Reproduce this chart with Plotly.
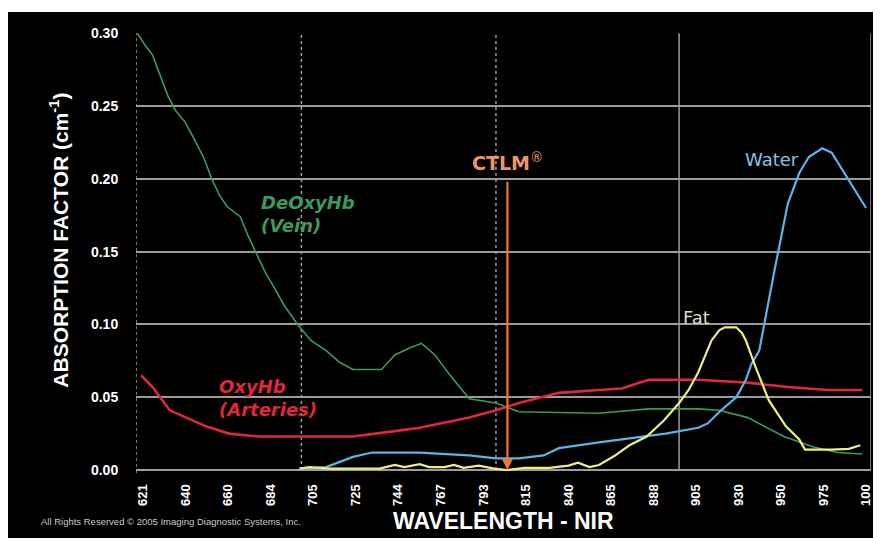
import plotly.graph_objects as go

# ---------------- data ----------------
tick_labels = ["621", "640", "660", "684", "705", "725", "744", "767", "793",
               "815", "840", "865", "888", "905", "930", "950", "975", "100"]

deoxy_nm = [618, 622, 626, 630, 634, 638, 643, 648, 653, 657, 661, 665, 672, 676,
            680, 685, 689, 695, 702, 709, 717, 724, 731, 746, 753, 761, 767, 774,
            782, 792, 806, 818, 860, 886, 912, 923, 938, 957, 972, 985, 998]
deoxy_val = [0.300, 0.292, 0.285, 0.271, 0.257, 0.247, 0.239, 0.227, 0.214, 0.200,
             0.189, 0.181, 0.174, 0.161, 0.150, 0.136, 0.127, 0.113, 0.100, 0.089,
             0.082, 0.074, 0.069, 0.069, 0.079, 0.084, 0.087, 0.079, 0.065, 0.049,
             0.046, 0.040, 0.039, 0.042, 0.042, 0.041, 0.036, 0.023, 0.016, 0.012, 0.011]

oxy_nm = [620, 626, 635, 644, 654, 666, 682, 703, 731, 749, 766, 792, 806, 818,
          839, 860, 872, 886, 912, 938, 959, 980, 998]
oxy_val = [0.065, 0.057, 0.041, 0.036, 0.030, 0.025, 0.023, 0.023, 0.023, 0.026,
           0.029, 0.036, 0.041, 0.046, 0.053, 0.055, 0.056, 0.062, 0.062, 0.060,
           0.057, 0.055, 0.055]

water_nm = [703, 708, 717, 731, 741, 766, 792, 806, 818, 831, 839, 860, 877, 895,
            912, 917, 924, 932, 937, 940, 944, 947, 952, 959, 965, 970, 977, 982,
            991, 1000]
water_val = [0.001, 0.0015, 0.002, 0.009, 0.012, 0.012, 0.010, 0.008, 0.008, 0.010,
             0.015, 0.019, 0.022, 0.025, 0.029, 0.032, 0.041, 0.050, 0.062, 0.073,
             0.082, 0.103, 0.137, 0.183, 0.204, 0.215, 0.221, 0.218, 0.199, 0.180]

fat_nm = [703, 708, 719, 745, 753, 758, 766, 771, 779, 784, 789, 797, 805, 812,
          821, 834, 844, 849, 855, 860, 868, 876, 885, 894, 902, 907, 912, 916,
          919, 923, 926, 932, 935, 937, 942, 949, 958, 965, 968, 982, 991, 997]
fat_val = [0.001, 0.002, 0.001, 0.001, 0.0035, 0.002, 0.004, 0.002, 0.002, 0.0035,
           0.0015, 0.003, 0.001, 0.0, 0.0015, 0.0015, 0.003, 0.005, 0.002, 0.0034,
           0.0096, 0.017, 0.023, 0.034, 0.046, 0.055, 0.067, 0.079, 0.089, 0.096,
           0.098, 0.098, 0.094, 0.089, 0.071, 0.048, 0.030, 0.021, 0.014, 0.014,
           0.0145, 0.017]

ctlm_nm = 812          # CTLM marker wavelength
ctlm_top = 0.199       # top of CTLM arrow
vgrid_nm = [704, 806, 902, 1002.6]   # vertical grid lines
vgrid_dash = ["dot", "dot", "solid", "solid"]

# ---------------- figure ----------------
x_lo, x_hi = 617.3, 1002.6
tickvals = [621 + i * (1000 - 621) / 17 for i in range(len(tick_labels))]

C_GREEN = "#3c9a5c"
C_RED = "#e0283c"
C_BLUE = "#5ab4e8"
C_YEL = "#eeee80"
C_ORANGE = "#f07828"
C_GRID = "#9c9c9c"

fig = go.Figure()
fig.add_trace(go.Scatter(x=deoxy_nm, y=deoxy_val, mode="lines",
                         line=dict(color=C_GREEN, width=1.6), name="DeOxyHb"))
fig.add_trace(go.Scatter(x=oxy_nm, y=oxy_val, mode="lines",
                         line=dict(color=C_RED, width=2.6), name="OxyHb"))
fig.add_trace(go.Scatter(x=water_nm, y=water_val, mode="lines",
                         line=dict(color=C_BLUE, width=2.2), name="Water"))
fig.add_trace(go.Scatter(x=fat_nm, y=fat_val, mode="lines",
                         line=dict(color=C_YEL, width=2.2), name="Fat"))

shapes = []
# left axis (dotted)
shapes.append(dict(type="line", xref="x", yref="y", x0=x_lo, x1=x_lo, y0=-0.002, y1=0.30,
                   line=dict(color=C_GRID, width=1.5, dash="dot"), layer="below"))
for xv, ds in zip(vgrid_nm, vgrid_dash):
    shapes.append(dict(type="line", xref="x", yref="y", x0=xv, x1=xv, y0=0, y1=0.30,
                       line=dict(color=C_GRID, width=1.5, dash=ds), layer="below"))
# thin white strip along the top, as in the reference image
shapes.append(dict(type="rect", xref="paper", yref="paper", x0=-0.2, x1=1.02,
                   y0=1.0477, y1=1.07, fillcolor="white", line=dict(width=0)))

FONT = "Liberation Sans"
LBL = "DejaVu Sans"
annotations = [
    dict(x=ctlm_nm, y=0.0, ax=ctlm_nm, ay=ctlm_top, xref="x", yref="y", axref="x", ayref="y",
         showarrow=True, arrowhead=2, arrowsize=1, arrowwidth=2.2, arrowcolor=C_ORANGE, text=""),
    dict(x=ctlm_nm, y=0.2114, xref="x", yref="y", showarrow=False,
         text="<b>CTLM</b><sup>®</sup>", font=dict(family=LBL, size=19, color="#f09468")),
    dict(x=682, y=0.176, xref="x", yref="y", xanchor="left", yanchor="middle",
         showarrow=False, align="left",
         text="<b><i>DeOxyHb<br>(Vein)</i></b>", font=dict(family=LBL, size=18, color=C_GREEN)),
    dict(x=660, y=0.0495, xref="x", yref="y", xanchor="left", yanchor="middle",
         showarrow=False, align="left",
         text="<b><i>OxyHb<br>(Arteries)</i></b>", font=dict(family=LBL, size=18, color=C_RED)),
    dict(x=966, y=0.213, xref="x", yref="y", xanchor="right", yanchor="middle", showarrow=False,
         text="Water", font=dict(family=LBL, size=18, color="#8ec0e4")),
    dict(x=903, y=0.105, xref="x", yref="y", xanchor="left", yanchor="middle", showarrow=False,
         text="Fat", font=dict(family=LBL, size=18, color="#dcdcc8")),
    dict(x=0.5, y=-0.109, xref="paper", yref="paper", xanchor="center", yanchor="middle",
         showarrow=False,
         text="<b>WAVELENGTH - NIR</b>", font=dict(family=FONT, size=23, color="white")),
    dict(x=-0.105, y=0.53, xref="paper", yref="paper", xanchor="center", yanchor="middle",
         showarrow=False, textangle=-90,
         text="<b>ABSORPTION FACTOR (cm<sup>-1</sup>)</b>",
         font=dict(family=FONT, size=21, color="white")),
    dict(x=-0.132, y=-0.111, xref="paper", yref="paper", xanchor="left", yanchor="middle",
         showarrow=False,
         text="All Rights Reserved © 2005 Imaging Diagnostic Systems, Inc.",
         font=dict(family=FONT, size=9.5, color="#c8c8c8")),
]

# page has an 8px body margin, so the figure is 873x530 to fill the 881x538 window
fig.update_layout(
    width=873, height=530,
    paper_bgcolor="black", plot_bgcolor="black",
    margin=dict(l=128, r=8, t=25, b=65, pad=0),
    showlegend=False,
    shapes=shapes, annotations=annotations,
    xaxis=dict(range=[x_lo, x_hi], tickmode="array", tickvals=tickvals, ticktext=tick_labels,
               tickangle=-90, showgrid=False, zeroline=False, showline=False,
               ticks="outside", ticklen=5, tickcolor="rgba(0,0,0,0)",
               tickfont=dict(family=FONT, size=13, color="white", weight="bold")),
    yaxis=dict(range=[-0.00206, 0.3002], tickmode="array",
               tickvals=[0, 0.05, 0.10, 0.15, 0.20, 0.25, 0.30],
               ticktext=["0.00", "0.05", "0.10", "0.15", "0.20", "0.25", "0.30"],
               showgrid=True, gridcolor=C_GRID, gridwidth=1.5,
               zeroline=True, zerolinecolor=C_GRID, zerolinewidth=1.5, showline=False,
               ticks="outside", ticklen=14, tickcolor="rgba(0,0,0,0)",
               tickfont=dict(family=FONT, size=14, color="white", weight="bold")),
)

fig.write_html("out.html")
